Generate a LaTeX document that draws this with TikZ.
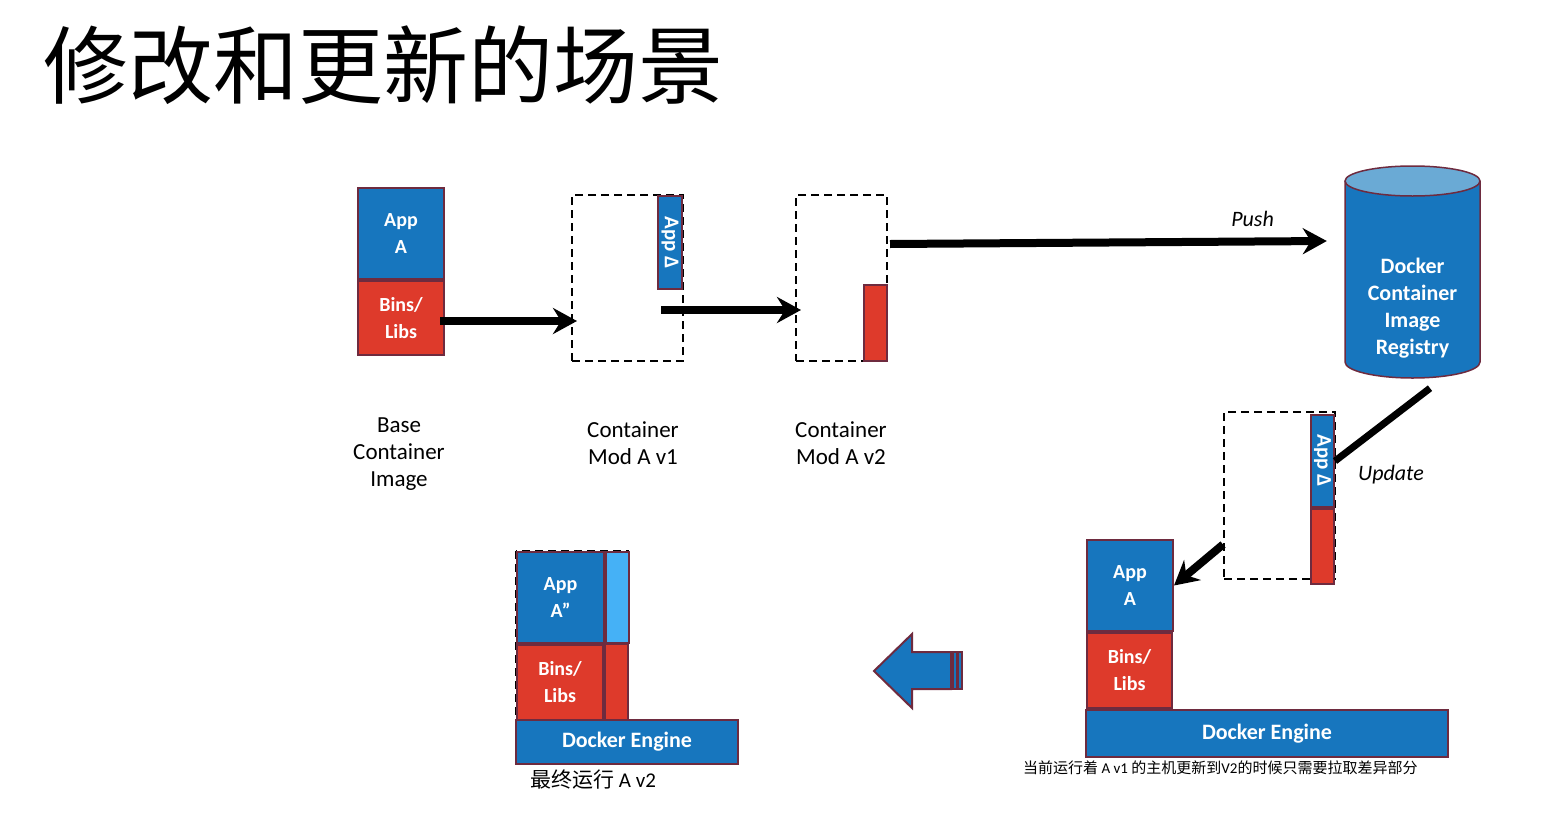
\documentclass[tikz,border=0pt]{standalone}
\usepackage{fontspec}
\setmainfont{Carlito}
\newfontfamily\cjk{Noto Sans CJK SC}
\usetikzlibrary{arrows.meta, calc, positioning}

\definecolor{appblue}{RGB}{23,118,190}
\definecolor{libred}{RGB}{222,58,43}
\definecolor{edge}{RGB}{110,43,63}
\definecolor{striplight}{RGB}{69,177,246}
\definecolor{toplight}{RGB}{106,170,213}

\tikzset{
  layer/.style={draw=edge, line width=2pt, inner sep=0pt, anchor=north west, text=white, align=center, font=\bfseries\fontsize{20}{27}\selectfont},
  appbox/.style={layer, fill=appblue},
  libbox/.style={layer, fill=libred},
  enginebox/.style={appbox, font=\bfseries\fontsize{22}{27}\selectfont},
  deltabox/.style={appbox, font=\bfseries\fontsize{21}{22}\selectfont},
  stage/.style={draw=black, line width=2pt, dash pattern=on 8pt off 5pt, inner sep=0pt, anchor=north west},
  caption/.style={font=\fontsize{23}{27}\selectfont, align=center},
  note/.style={font=\itshape\fontsize{22}{27}\selectfont},
  push/.style={line width=8pt, -{Stealth[length=24pt,width=26pt,inset=8pt]}},
}

\begin{document}
\begin{tikzpicture}[x=1pt, y=-1pt]
\useasboundingbox (0,0) rectangle (1546,814);

\node[anchor=west, inner sep=0pt, font=\cjk\fontsize{85}{90}\selectfont] (title) at (43,65) {修改和更新的场景};

% base image
\node[appbox, minimum width=86, minimum height=91] (appa) at (357,187) {App\\A};
\node[libbox, minimum width=86, minimum height=74] (binsa) at (appa.south west) {Bins/\\Libs};
\node[caption] (basel) at (399,454) {Base\\Container\\Image};

% mod v1
\node[stage, minimum width=111, minimum height=166] (modone) at (571,194) {};
\node[deltabox, minimum width=24, minimum height=93] (deltaone) at (657,195) {\rotatebox{-90}{App Δ}};
\node[caption] (onel) at (633,443) {Container\\Mod A v1};

% mod v2
\node[stage, minimum width=91, minimum height=166] (modtwo) at (795,194) {};
\node[libbox, minimum width=23, minimum height=76] (libtwo) at (863,284) {};
\node[caption] (twol) at (841,443) {Container\\Mod A v2};

\draw[push] ($(binsa.east)+(-5,3)$) -- ($(binsa.east -| modone.west)+(6,3)$);
\draw[push] ($(deltaone.south west)+(4,20)$) -- ($(deltaone.south west -| modtwo.west)+(6,20)$);

% registry
\fill[appblue] (1345,181) -- (1345,362) arc[start angle=180, end angle=360, x radius=67.5pt, y radius=16pt] -- (1480,181) -- cycle;
\draw[edge, line width=1.5pt] (1345,181) -- (1345,362) arc[start angle=180, end angle=360, x radius=67.5pt, y radius=16pt] -- (1480,181);
\draw[edge, line width=1.5pt, fill=toplight] (1412.5,181) ellipse [x radius=67.5pt, y radius=15pt];
\node[caption, font=\bfseries\fontsize{22}{27}\selectfont, text=white, inner sep=0pt, minimum width=135, minimum height=140] (registry) at (1412.5,308) {Docker\\Container\\Image\\Registry};

\draw[push] ($(modtwo.north east)+(2,50)$) -- node[note, above, pos=0.83, yshift=8pt] (pushl) {Push} ($(registry.west)+(-18,-67)$);

% pulled layers
\node[stage, minimum width=111, minimum height=167] (modthree) at (1223,411) {};
\node[deltabox, minimum width=23, minimum height=92] (deltathree) at (1310,414) {\rotatebox{-90}{App Δ}};
\node[libbox, minimum width=23, minimum height=75] (libthree) at (deltathree.south west) {};

\draw[line width=7pt] ($(registry.south)+(17.5,10)$) -- (deltathree.east);
\node[note] (updatel) at (1391,475) {Update};

% host running v1
\node[appbox, minimum width=86, minimum height=91] (appb) at (1086,539) {App\\A};
\node[libbox, minimum width=85, minimum height=75] (binsb) at (appb.south west) {Bins/\\Libs};
\node[enginebox, minimum width=362, minimum height=47] (engineb) at ($(binsb.south west)+(-1,0)$) {Docker Engine};
\node[anchor=west, inner sep=0pt, font=\fontsize{15}{18}\selectfont] (hostl) at (1023,768) {{\cjk 当前运行着} A v1 {\cjk 的主机更新到}V2{\cjk 的时候只需要拉取差异部分}};

\draw[push] ($(modthree.west)+(0,49)$) -- (appb.east);

% big arrow
\draw[edge, line width=2pt, fill=appblue] (874,671) -- (912,634) -- (912,652) -- (951,652) -- (951,689) -- (912,689) -- (912,708) -- cycle;
\draw[edge, line width=1.5pt, fill=appblue] (953,652) rectangle (957,689);
\draw[edge, line width=1.5pt, fill=appblue] (958,652) rectangle (962,689);

% host running v2
\draw[black, line width=2pt, dash pattern=on 8pt off 5pt] (516,551) rectangle (628,719);
\node[appbox, minimum width=87, minimum height=91] (appc) at (516,551) {App\\A”};
\node[layer, fill=striplight, minimum width=23, minimum height=91] (stripc) at (605,551) {};
\node[libbox, minimum width=86, minimum height=75] (binsc) at (appc.south west) {Bins/\\Libs};
\node[libbox, minimum width=23, minimum height=77] (libc) at (604,643) {};
\node[enginebox, minimum width=222, minimum height=44] (enginec) at (515,719) {Docker Engine};
\node[anchor=west, inner sep=0pt, font=\fontsize{21}{24}\selectfont] (finall) at (530,780) {{\cjk 最终运行} A v2};

\end{tikzpicture}
\end{document}
